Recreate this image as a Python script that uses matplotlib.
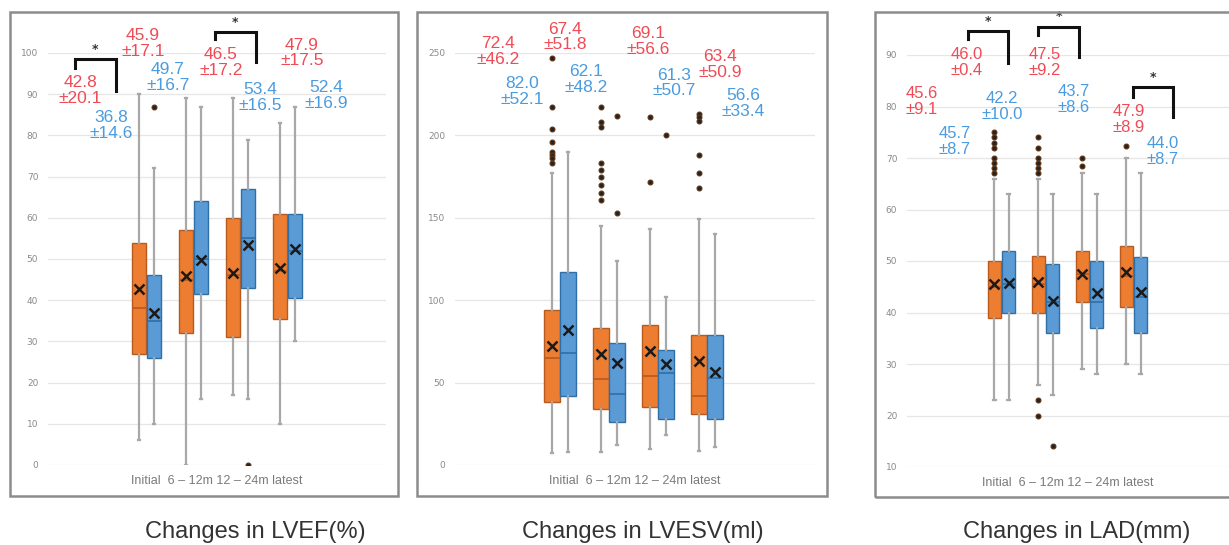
import matplotlib
matplotlib.use("Agg")
import matplotlib.pyplot as plt
from matplotlib.patches import Rectangle

# --- data ---
groups = ["Initial", "6-12m", "12-24m", "latest"]

# LVEF (%)
lvef_a_q1 = [27, 32, 31, 35.5]
lvef_a_med = [38, 45, 46, 47]
lvef_a_q3 = [54, 57, 60, 61]
lvef_a_lo = [6, 0, 17, 10]
lvef_a_hi = [90, 89, 89, 83]
lvef_a_mean = [42.8, 45.9, 46.5, 47.9]
lvef_a_sd = [20.1, 17.1, 17.2, 17.5]
lvef_a_fliers = [[], [], [], []]
lvef_b_q1 = [26, 41.5, 43, 40.5]
lvef_b_med = [35, 50, 55, 52]
lvef_b_q3 = [46, 64, 67, 61]
lvef_b_lo = [10, 16, 16, 30]
lvef_b_hi = [72, 87, 79, 87]
lvef_b_mean = [36.8, 49.7, 53.4, 52.4]
lvef_b_sd = [14.6, 16.7, 16.5, 16.9]
lvef_b_fliers = [[87], [], [0], []]

# LVESV (ml)
lvesv_a_q1 = [38, 34, 35, 31]
lvesv_a_med = [65, 52, 54, 42]
lvesv_a_q3 = [94, 83, 85, 79]
lvesv_a_lo = [7, 8, 9.5, 8.5]
lvesv_a_hi = [177, 145, 143, 149]
lvesv_a_mean = [72.4, 67.4, 69.1, 63.4]
lvesv_a_sd = [46.2, 51.8, 56.6, 50.9]
lvesv_a_fliers = [[247, 217, 204, 196, 190, 188, 186, 183],
                  [217, 208, 205, 183, 179, 175, 170, 165, 161],
                  [211, 172],
                  [213, 211, 209, 188, 177, 168]]
lvesv_b_q1 = [42, 26, 28, 28]
lvesv_b_med = [68, 43, 56, 52.5]
lvesv_b_q3 = [117, 74, 70, 79]
lvesv_b_lo = [8, 12, 18.5, 11]
lvesv_b_hi = [190, 124, 102, 140]
lvesv_b_mean = [82.0, 62.1, 61.3, 56.6]
lvesv_b_sd = [52.1, 48.2, 50.7, 33.4]
lvesv_b_fliers = [[], [212, 153], [200], []]

# LAD (mm)
lad_a_q1 = [39, 40, 42, 41]
lad_a_med = [45, 45.5, 47.5, 47]
lad_a_q3 = [50, 51, 52, 53]
lad_a_lo = [23, 26, 29, 30]
lad_a_hi = [66, 66, 67, 70]
lad_a_mean = [45.6, 46.0, 47.5, 47.9]
lad_a_sd = [9.1, 0.4, 9.2, 8.9]
lad_a_fliers = [[75, 74, 73, 72, 70, 69, 68, 67],
                [74, 72, 70, 69, 68, 67, 23, 20],
                [70, 68.5],
                [72.3]]
lad_b_q1 = [40, 36, 37, 36]
lad_b_med = [45.5, 42, 42, 43]
lad_b_q3 = [52, 49.4, 50, 50.7]
lad_b_lo = [23, 24, 28, 28]
lad_b_hi = [63, 63, 63, 67]
lad_b_mean = [45.7, 42.2, 43.7, 44.0]
lad_b_sd = [8.7, 10.0, 8.6, 8.7]
lad_b_fliers = [[], [14], [], []]

titles = ["Changes in LVEF(%)", "Changes in LVESV(ml)", "Changes in LAD(mm)"]
xlabel_text = "Initial  6 – 12m 12 – 24m latest"

ORANGE, ORANGE_EDGE = "#ED7D31", "#B85A1E"
BLUE, BLUE_EDGE = "#5B9BD5", "#2F6FA8"
RED_TXT, BLUE_TXT = "#EE4B55", "#4A9BDF"

W, H = 1229, 545
fig = plt.figure(figsize=(W / 100, H / 100), dpi=100)
fig.patch.set_facecolor("white")


def px_axes(l, t, r, b):
    return fig.add_axes([l / W, 1 - b / H, (r - l) / W, (b - t) / H])


def frame(l, t, r, b):
    fig.patches.append(Rectangle((l / W, 1 - b / H), (r - l) / W, (b - t) / H,
                                 transform=fig.transFigure, fill=False,
                                 edgecolor="#8c8c8c", lw=1.8, zorder=0))


def make_stats(q1, med, q3, lo, hi, mean, fliers):
    out = []
    for i in range(len(q1)):
        out.append(dict(q1=q1[i], med=med[i], q3=q3[i], whislo=lo[i],
                        whishi=hi[i], mean=mean[i], fliers=fliers[i]))
    return out


def draw_boxes(ax, stats, pos, color, edge, width):
    ax.bxp(stats, positions=pos, widths=width, patch_artist=True,
           showmeans=True, capwidths=0.05, manage_ticks=False,
           boxprops=dict(facecolor=color, edgecolor=edge, lw=1.0),
           medianprops=dict(color=edge, lw=1.2),
           whiskerprops=dict(color="#a8a8a8", lw=1.6),
           capprops=dict(color="#a8a8a8", lw=1.6),
           meanprops=dict(marker="x", markeredgecolor="#1a1a1a",
                          markersize=7, markeredgewidth=1.8),
           flierprops=dict(marker="o", markerfacecolor="#222222",
                           markeredgecolor="#5a3418", markersize=3.3))


def bracket(ax, x0, x1, ytop, y0, y1, ystar):
    ax.plot([x0, x0, x1, x1], [y0, ytop, ytop, y1], color="#111111",
            lw=2.2, clip_on=False, solid_joinstyle="miter")
    ax.text((x0 + x1) / 2, ystar, "*", ha="center", va="center",
            fontsize=9, fontweight="bold", color="#333333", clip_on=False)


def setup(ax, ylim, ticks, xlim):
    ax.set_ylim(*ylim)
    ax.set_xlim(*xlim)
    ax.set_yticks(ticks)
    ax.set_xticks([])
    for s in ax.spines.values():
        s.set_visible(False)
    ax.grid(axis="y", color="#e6e6e6", lw=0.9)
    ax.set_axisbelow(True)
    ax.tick_params(axis="y", length=0, labelsize=6.5, labelcolor="#8a8a8a", pad=7)
    ax.set_xlabel(xlabel_text, fontsize=9, color="#7a7a7a", labelpad=7,
                  family="Liberation Sans")


def labels(ax, means, sds, spots, color, fs=12.5):
    for m, s, (x, y) in zip(means, sds, spots):
        ax.text(x, y, f"{m:.1f}\n±{s:.1f}", ha="center", va="center",
                color=color, fontsize=fs, linespacing=1.08,
                family="Liberation Sans", clip_on=False)


pos = [1, 2, 3, 4]

# ---------- panel 1: LVEF ----------
frame(10, 12, 398, 496)
ax1 = px_axes(48, 53, 386, 465)
draw_boxes(ax1, make_stats(lvef_a_q1, lvef_a_med, lvef_a_q3, lvef_a_lo, lvef_a_hi,
                           lvef_a_mean, lvef_a_fliers),
           [p - 0.16 for p in pos], ORANGE, ORANGE_EDGE, 0.3)
draw_boxes(ax1, make_stats(lvef_b_q1, lvef_b_med, lvef_b_q3, lvef_b_lo, lvef_b_hi,
                           lvef_b_mean, lvef_b_fliers),
           [p + 0.16 for p in pos], BLUE, BLUE_EDGE, 0.3)
setup(ax1, (0, 100), range(0, 101, 10), (-1.096, 6.096))
labels(ax1, lvef_a_mean, lvef_a_sd,
       [(-0.415, 90.8), (0.926, 102.4), (2.585, 97.8), (4.309, 100.0)], RED_TXT)
labels(ax1, lvef_b_mean, lvef_b_sd,
       [(0.245, 82.3), (1.457, 94.1), (3.415, 89.3), (4.819, 89.6)], BLUE_TXT)
bracket(ax1, -0.523, 0.351, 98.5, 96.4, 90.8, 100.9)
bracket(ax1, 2.457, 3.33, 105.1, 103.4, 97.8, 107.4)

# ---------- panel 2: LVESV ----------
frame(417, 12, 827, 496)
ax2 = px_axes(455, 53, 815, 465)
draw_boxes(ax2, make_stats(lvesv_a_q1, lvesv_a_med, lvesv_a_q3, lvesv_a_lo, lvesv_a_hi,
                           lvesv_a_mean, lvesv_a_fliers),
           [p - 0.165 for p in pos], ORANGE, ORANGE_EDGE, 0.33)
draw_boxes(ax2, make_stats(lvesv_b_q1, lvesv_b_med, lvesv_b_q3, lvesv_b_lo, lvesv_b_hi,
                           lvesv_b_mean, lvesv_b_fliers),
           [p + 0.165 for p in pos], BLUE, BLUE_EDGE, 0.33)
setup(ax2, (0, 250), range(0, 251, 50), (-1.143, 6.204))
labels(ax2, lvesv_a_mean, lvesv_a_sd,
       [(-0.265, 251.2), (1.102, 259.7), (2.796, 256.7), (4.265, 243.3)], RED_TXT)
labels(ax2, lvesv_b_mean, lvesv_b_sd,
       [(0.224, 226.4), (1.531, 234.2), (3.327, 231.8), (4.735, 219.1)], BLUE_TXT)

# ---------- panel 3: LAD ----------
frame(875, 12, 1240, 497)
ax3 = px_axes(907, 55, 1229, 467)
draw_boxes(ax3, make_stats(lad_a_q1, lad_a_med, lad_a_q3, lad_a_lo, lad_a_hi,
                           lad_a_mean, lad_a_fliers),
           [p - 0.16 for p in pos], ORANGE, ORANGE_EDGE, 0.28)
draw_boxes(ax3, make_stats(lad_b_q1, lad_b_med, lad_b_q3, lad_b_lo, lad_b_hi,
                           lad_b_mean, lad_b_fliers),
           [p + 0.16 for p in pos], BLUE, BLUE_EDGE, 0.28)
setup(ax3, (10, 90), range(10, 91, 10), (-1.148, 6.17))
labels(ax3, lad_a_mean, lad_a_sd,
       [(-0.807, 81.0), (0.216, 88.6), (1.989, 88.6), (3.898, 77.5)], RED_TXT, 12)
labels(ax3, lad_b_mean, lad_b_sd,
       [(-0.057, 73.2), (1.011, 80.0), (2.648, 81.4), (4.67, 71.3)], BLUE_TXT, 12)
bracket(ax3, 0.239, 1.148, 94.6, 93.05, 88.4, 96.6)
bracket(ax3, 1.83, 2.761, 95.4, 93.8, 89.6, 97.4)
bracket(ax3, 3.989, 4.898, 83.7, 81.8, 77.9, 85.6)

# titles under each panel
for t, xc in zip(titles, [255, 643, 1077]):
    fig.text(xc / W, 1 - 532 / H, t, ha="center", va="center", fontsize=17,
             color="#333333", family="Liberation Sans")

fig.savefig("out.png", dpi=100)
